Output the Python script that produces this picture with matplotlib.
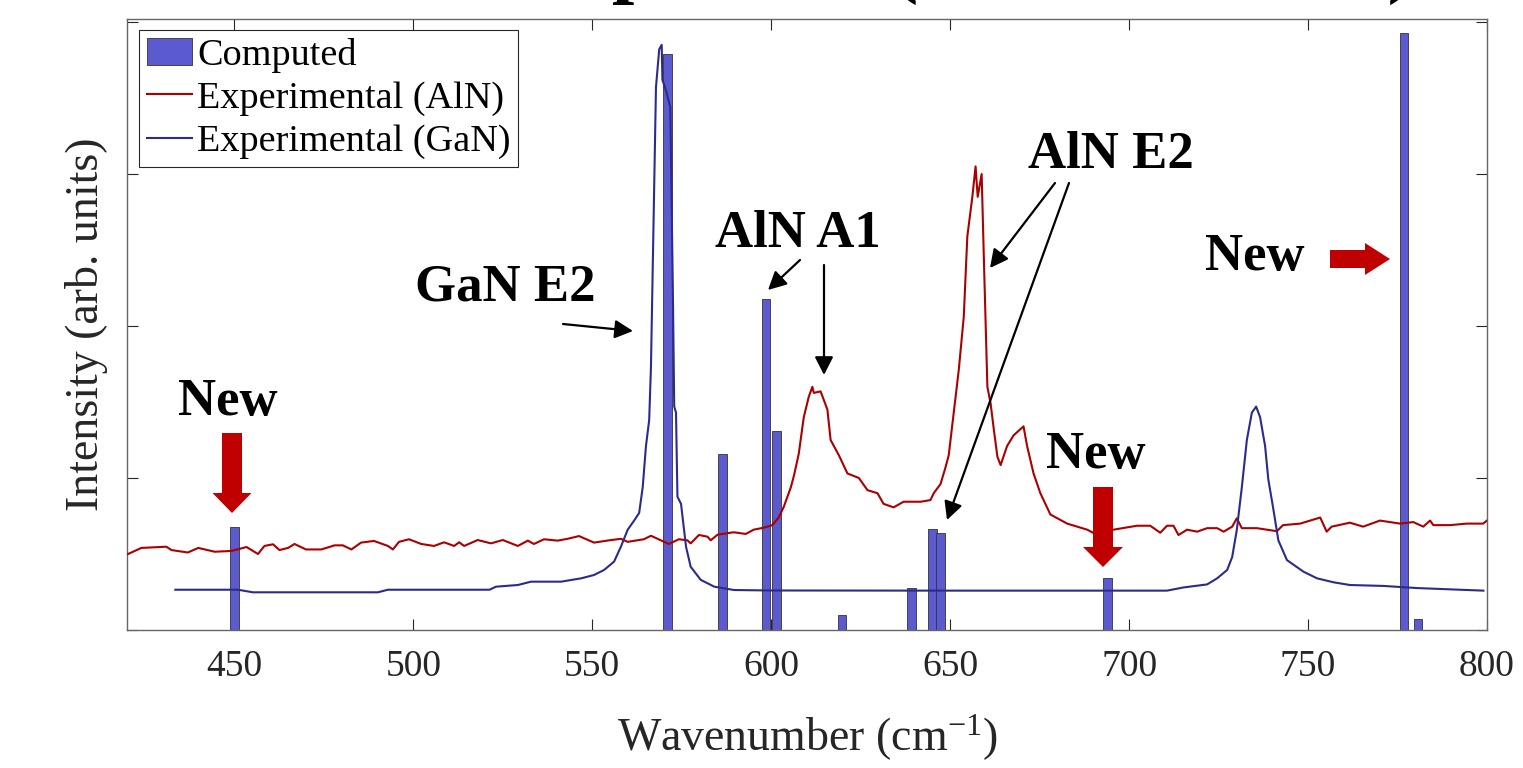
import matplotlib
matplotlib.use("Agg")
import matplotlib.pyplot as plt
from matplotlib.patches import Polygon

plt.rcParams['font.family'] = ['Liberation Serif', 'DejaVu Serif']
plt.rcParams['mathtext.default'] = 'regular'

# --- data ---
# computed Raman modes (wavenumber, relative intensity)
comp_x = [450.0, 571.1, 586.4, 598.6, 601.5, 619.8, 639.2, 645.1, 647.3, 693.9, 776.8, 780.7]
comp_y = [0.68, 3.79, 1.16, 2.18, 1.31, 0.10, 0.275, 0.665, 0.635, 0.345, 3.93, 0.07]

# experimental AlN spectrum
aln_x = [420.3, 424, 431, 432.4, 437, 439.9, 444.5, 449.2, 453.4, 456.6, 458.4, 460.8,
         462.6, 465, 466.8, 470, 474.3, 478, 480.3, 482.7, 485.4, 489, 492.9, 494.3,
         496, 498.8, 502.2, 505.8, 508.6, 511.4, 512.8, 514.2, 518, 521.7, 525, 529.2,
         532, 533.7, 536.5, 540.3, 543.1, 546.3, 550.5, 554.7, 558, 559.9, 564.4, 566.4,
         569.2, 571.4, 574.2, 576.6, 577.5, 579.8, 582.2, 583.1, 585, 589.5, 592.9, 595.1,
         597.9, 600.3, 602.1, 603.5, 605.5, 606.4, 607.7, 609.1, 610.5, 611.5, 611.9, 613.8,
         615.7, 616.6, 618.9, 621.3, 624.5, 626.9, 629.7, 631.4, 634.2, 637, 641.8, 644.5,
         645.4, 647.3, 648.7, 649.6, 650.6, 651, 652.4, 653.8, 654.8, 656.2, 657.1, 657.7,
         658.8, 659.4, 660.4, 661.3, 662.2, 663.2, 664.1, 665.9, 667.7, 670.5, 671.5, 673.3,
         675.2, 678, 682.7, 688.3, 691.1, 695.6, 702.2, 705.9, 708.7, 710.6, 712.4, 713.8,
         716.2, 719, 721.8, 724.6, 726.4, 728.8, 730.1, 731.5, 735.7, 741.3, 743, 747.8,
         753.4, 755.2, 756.6, 761.7, 765.4, 770.1, 775.7, 779.4, 782.2, 784.1, 785, 789.7,
         794.3, 798.9, 800]
aln_y = [0.50, 0.54, 0.548, 0.526, 0.51, 0.54, 0.515, 0.52, 0.546, 0.50, 0.553, 0.564,
         0.526, 0.54, 0.566, 0.53, 0.53, 0.557, 0.557, 0.53, 0.575, 0.586, 0.553, 0.53,
         0.58, 0.597, 0.566, 0.553, 0.577, 0.553, 0.577, 0.553, 0.592, 0.57, 0.592, 0.553,
         0.588, 0.566, 0.597, 0.588, 0.60, 0.618, 0.575, 0.59, 0.60, 0.58, 0.597, 0.62,
         0.59, 0.566, 0.597, 0.59, 0.57, 0.625, 0.614, 0.59, 0.627, 0.643, 0.632, 0.66,
         0.673, 0.69, 0.74, 0.81, 0.94, 1.02, 1.16, 1.40, 1.535, 1.60, 1.56, 1.57,
         1.45, 1.25, 1.15, 1.03, 1.00, 0.92, 0.90, 0.83, 0.807, 0.844, 0.844, 0.855,
         0.90, 0.96, 1.07, 1.15, 1.35, 1.43, 1.71, 2.06, 2.59, 2.85, 3.05, 2.85,
         3.00, 2.46, 1.60, 1.49, 1.32, 1.14, 1.085, 1.21, 1.28, 1.34, 1.21, 1.03,
         0.90, 0.76, 0.70, 0.66, 0.625, 0.66, 0.686, 0.686, 0.64, 0.686, 0.686, 0.625,
         0.66, 0.647, 0.67, 0.67, 0.647, 0.68, 0.735, 0.67, 0.67, 0.65, 0.69, 0.70,
         0.74, 0.647, 0.68, 0.706, 0.68, 0.72, 0.70, 0.71, 0.68, 0.72, 0.69, 0.69,
         0.70, 0.70, 0.72]

# experimental GaN spectrum
gan_x = [433.5, 451, 455.2, 490.1, 492.9, 521.3, 523.1, 529.2, 532.9, 541.3, 546.9, 550.5,
         553.3, 556.1, 558, 559.9, 561.7, 563.1, 564.1, 565, 565.9, 566.4, 567.1, 567.8,
         568.7, 569.4, 569.6, 570.6, 571.8, 572.5, 572.9, 573.4, 573.8, 574.8, 576.2, 577.5,
         580.3, 584.1, 589.6, 600, 650, 692, 710.6, 715.2, 721.8, 724.6, 727.4, 728.8,
         730.1, 731.5, 732.9, 734.3, 735.5, 736.6, 738, 738.9, 740.2, 741.7, 744.1, 748.7,
         752.5, 757.1, 761.7, 771, 780.4, 799]
gan_y = [0.265, 0.265, 0.248, 0.248, 0.265, 0.265, 0.285, 0.296, 0.318, 0.318, 0.34, 0.362,
         0.395, 0.45, 0.548, 0.66, 0.72, 0.77, 0.94, 1.21, 1.38, 1.73, 2.65, 3.57,
         3.82, 3.85, 3.62, 3.55, 3.44, 2.26, 1.47, 1.43, 0.877, 0.83, 0.548, 0.416,
         0.33, 0.285, 0.263, 0.26, 0.259, 0.259, 0.259, 0.28, 0.30, 0.34, 0.395, 0.48,
         0.66, 0.94, 1.25, 1.43, 1.47, 1.40, 1.21, 0.99, 0.81, 0.59, 0.46, 0.384,
         0.34, 0.314, 0.296, 0.29, 0.276, 0.259]

xticks = [450, 500, 550, 600, 650, 700, 750, 800]

W, H = 1523, 768
fig = plt.figure(figsize=(W / 100, H / 100), dpi=100)
ax = fig.add_axes([127 / W, 1 - 630 / H, (1487 - 127) / W, (630 - 19) / H])

bars = ax.bar(comp_x, comp_y, width=2.4, color='#5b5bcf', edgecolor='#333333',
              linewidth=0.6, label='Computed', zorder=2)
l_aln, = ax.plot(aln_x, aln_y, color='#aa0000', lw=1.5, label='Experimental (AlN)', zorder=3)
l_gan, = ax.plot(gan_x, gan_y, color='#2b2b8c', lw=1.5, label='Experimental (GaN)', zorder=3)

ax.set_xlim(420, 800)
ax.set_ylim(0, 4.02)
ax.set_xticks(xticks)
ax.set_yticks([0, 1, 2, 3, 4])
ax.set_yticklabels([])
ax.tick_params(direction='in', length=8, width=0.8, color='#262626',
               top=True, right=True, labelsize=27, labelcolor='#262626', pad=14)
for s in ax.spines.values():
    s.set_color('#666666')
    s.set_linewidth(1.0)

ax.set_xlabel('Wavenumber (cm$^{-1}$)', fontsize=33, color='#262626', labelpad=21)
ax.set_ylabel('Intensity (arb. units)', fontsize=33, color='#262626', labelpad=0)

leg = ax.legend([bars, l_aln, l_gan], ['Computed', 'Experimental (AlN)', 'Experimental (GaN)'],
                loc='upper left', bbox_to_anchor=(139 / W, 1 - 30 / H),
                bbox_transform=fig.transFigure, fontsize=27.5, frameon=True,
                fancybox=False, framealpha=1, edgecolor='#262626', borderpad=0.2,
                labelspacing=0.22, handlelength=1.2, handleheight=0.7,
                handletextpad=0.12, borderaxespad=0)
leg.get_frame().set_linewidth(0.8)

# title, cropped by the top edge in the reference
fig.text(176 / W, 1 + 12.5 / H, 'Raman Comparison (AlN and GaN)', fontsize=58,
         fontweight='bold', ha='left', va='baseline')


def px(x, y):
    return (x / W, 1 - y / H)


# peak labels
lab = dict(fontsize=38, fontweight='bold', ha='left', va='baseline')
fig.text(*px(415, 301), 'GaN E2', **lab)
fig.text(*px(715, 247), 'AlN A1', **lab)
fig.text(*px(1028, 168), 'AlN E2', **lab)
fig.text(*px(178, 415), 'New', **lab)
fig.text(*px(1046, 468), 'New', **lab)
fig.text(*px(1205, 270), 'New', **lab)

# black arrows
arrows = [((563, 324), (633, 331)), ((800, 260), (768, 290)), ((824, 265), (824, 375)),
          ((1055, 183), (990, 268)), ((1069, 183), (947, 520))]
for (x0, y0), (x1, y1) in arrows:
    ax.annotate('', xy=(x1, H - y1), xytext=(x0, H - y0), xycoords='figure pixels',
                textcoords='figure pixels',
                arrowprops=dict(arrowstyle='-|>,head_length=0.55,head_width=0.28',
                                mutation_scale=20, color='black', lw=1.6,
                                shrinkA=0, shrinkB=0))


# red block arrows
def down_arrow(cx, top, neck, tip, sw, hw):
    pts = [(cx - sw / 2, top), (cx + sw / 2, top), (cx + sw / 2, neck), (cx + hw / 2, neck),
           (cx, tip), (cx - hw / 2, neck), (cx - sw / 2, neck)]
    return [px(x, y) for x, y in pts]


def right_arrow(cy, left, neck, tip, sh, hh):
    pts = [(left, cy - sh / 2), (neck, cy - sh / 2), (neck, cy - hh / 2), (tip, cy),
           (neck, cy + hh / 2), (neck, cy + sh / 2), (left, cy + sh / 2)]
    return [px(x, y) for x, y in pts]


red = '#c00000'
for poly in [down_arrow(232, 433, 493, 513, 20, 39),
             down_arrow(1103, 487, 547, 567, 20, 40),
             right_arrow(259, 1330, 1365, 1390, 18, 32)]:
    fig.patches.append(Polygon(poly, closed=True, transform=fig.transFigure,
                               facecolor=red, edgecolor='none'))

fig.savefig('out.png', dpi=100)
